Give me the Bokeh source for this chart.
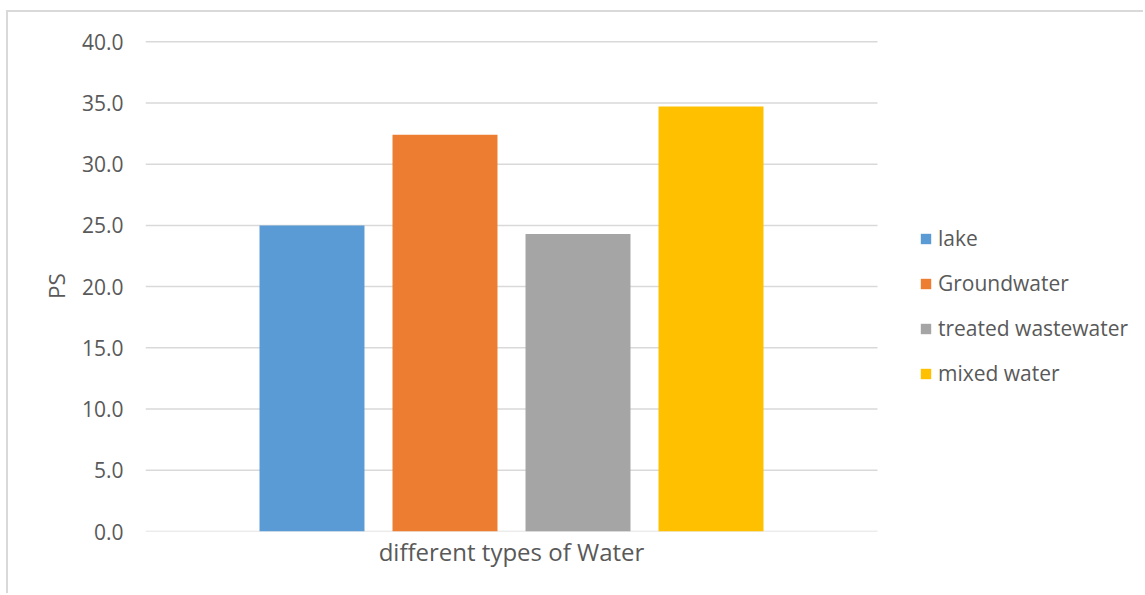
from bokeh.plotting import figure
from bokeh.models import Range1d, Legend, LegendItem, FixedTicker, NumeralTickFormatter
from bokeh.embed import file_html
from bokeh.resources import INLINE

group = "different types of Water"
series = ["lake", "Groundwater", "treated wastewater", "mixed water"]
ps_values = [25.0, 32.4, 24.3, 34.7]
colors = ["#5B9BD5", "#ED7D31", "#A5A5A5", "#FFC000"]
y_ticks = [0, 5, 10, 15, 20, 25, 30, 35, 40]

FONT = "Open Sans"
TEXT = "#595959"
GRID = "#D9D9D9"

# canvas geometry (px); the canvas sits 8px right / 12px down, leaving room
# for a thin chart-area border drawn with a CSS shadow
W, H = 1137, 583
LEFT, TOP, BOTTOM = 137, 28, 64
CAT_PX = 732                       # pixel width of the category band
frame_w = W - LEFT

# the category band occupies x in [0, 1]; the rest of the frame holds the legend
p = figure(width=W, height=H,
           x_range=Range1d(0, frame_w / CAT_PX),
           y_range=Range1d(0, 40.1),
           output_backend="svg", toolbar_location=None,
           min_border_left=LEFT, min_border_right=0,
           min_border_top=TOP, min_border_bottom=BOTTOM)
p.margin = (12, 0, 0, 8)
p.styles = {"box-shadow": "-2px -2px 0 0 #D9D9D9"}
p.outline_line_color = None
p.background_fill_color = "white"
p.border_fill_color = "white"

# horizontal gridlines across the category band only
p.xgrid.grid_line_color = None
p.ygrid.grid_line_color = None
p.segment(x0=[0] * len(y_ticks), x1=[1] * len(y_ticks), y0=y_ticks, y1=y_ticks,
          line_color=GRID, line_width=1.5)

# bars, one per water type, side by side inside the single category
step = 0.1817
bar_w = 0.1434
items = []
for i, (name, val, col) in enumerate(zip(series, ps_values, colors)):
    r = p.vbar(x=[0.5 + (i - 1.5) * step], top=[val], width=bar_w,
               fill_color=col, line_color=None)
    items.append(LegendItem(label=name, renderers=[r]))

# axes
p.yaxis.ticker = FixedTicker(ticks=y_ticks)
p.yaxis.formatter = NumeralTickFormatter(format="0.0")
p.yaxis.axis_label = "PS"
p.xaxis.ticker = FixedTicker(ticks=[0.5])
p.xaxis.major_label_overrides = {0.5: group}
for ax in (p.xaxis[0], p.yaxis[0]):
    ax.axis_line_color = None
    ax.major_tick_line_color = None
    ax.minor_tick_line_color = None
    ax.major_label_text_font = FONT
    ax.major_label_text_font_size = "21px"
    ax.major_label_text_color = TEXT
    ax.axis_label_text_font = FONT
    ax.axis_label_text_font_size = "22.5px"
    ax.axis_label_text_color = TEXT
    ax.axis_label_text_font_style = "normal"
p.xaxis.major_label_text_font_size = "24px"
p.yaxis.major_label_standoff = 16
p.yaxis.axis_label_standoff = 7
p.xaxis.major_label_standoff = -3

legend = Legend(items=items, location=(774, 144),
                glyph_width=13, glyph_height=13, label_standoff=6,
                label_text_font=FONT, label_text_font_size="21px",
                label_text_color=TEXT, label_height=24, spacing=17,
                padding=0, margin=0, border_line_color=None,
                background_fill_alpha=0)
p.add_layout(legend)

open("out.html", "w").write(file_html(p, INLINE))
